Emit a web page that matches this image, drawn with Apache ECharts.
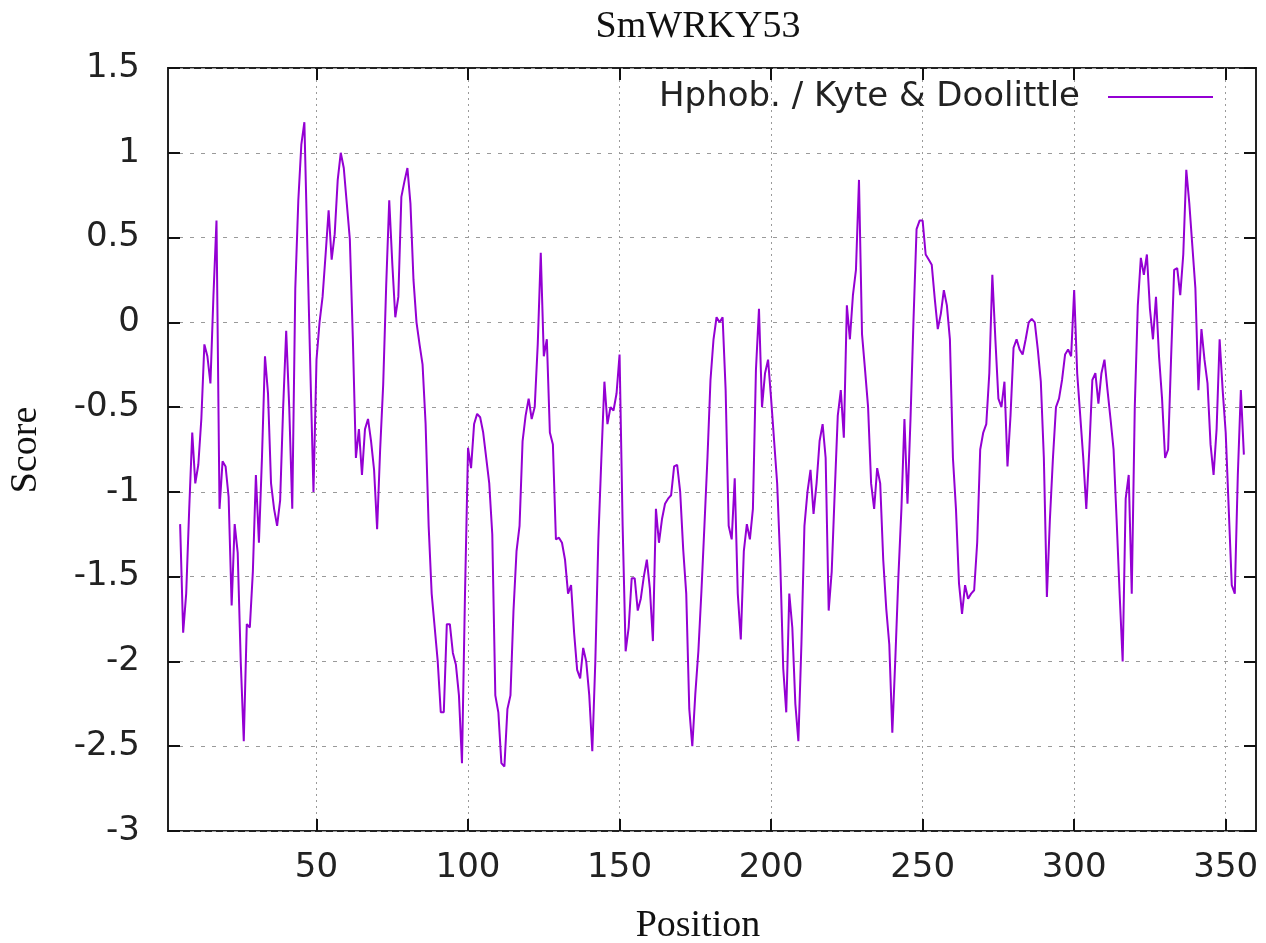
<!DOCTYPE html>
<html>
<head>
<meta charset="utf-8">
<script src="https://cdn.jsdelivr.net/npm/echarts@6/dist/echarts.min.js"></script>
<style>
html,body{margin:0;padding:0;background:#ffffff;}
#chart{width:1266px;height:943px;}
</style>
</head>
<body>
<div id="chart"></div>
<script>
// ---- data ----
const chartTitle = 'SmWRKY53';
const seriesName = 'Hphob. / Kyte & Doolittle';
const xAxisName = 'Position';
const yAxisName = 'Score';
const xRange = [1, 360];
const xTickValues = [50, 100, 150, 200, 250, 300, 350];
const yRange = [-3, 1.5];
const yTickStep = 0.5;
const firstPosition = 5;
const scores = [
  -1.19, -1.83, -1.6, -1.1, -0.65, -0.95, -0.84, -0.57, -0.13, -0.2,
  -0.36, 0.16, 0.6, -1.1, -0.82, -0.85, -1.03, -1.67, -1.19, -1.36,
  -2.0, -2.47, -1.78, -1.8, -1.47, -0.9, -1.3, -0.8, -0.2, -0.42,
  -0.95, -1.1, -1.2, -1.05, -0.5, -0.05, -0.5, -1.1, 0.2, 0.72,
  1.05, 1.18, 0.43, -0.3, -1.0, -0.22, 0.0, 0.15, 0.4, 0.66,
  0.37, 0.52, 0.84, 1.0, 0.91, 0.7, 0.49, -0.1, -0.8, -0.63,
  -0.9, -0.63, -0.57, -0.7, -0.87, -1.22, -0.75, -0.37, 0.22, 0.72,
  0.35, 0.03, 0.15, 0.74, 0.83, 0.91, 0.7, 0.25, 0.0, -0.13,
  -0.25, -0.6, -1.2, -1.6, -1.8, -2.0, -2.3, -2.3, -1.78, -1.78,
  -1.95, -2.02, -2.2, -2.6, -1.6, -0.74, -0.86, -0.6, -0.54, -0.56,
  -0.65, -0.8, -0.95, -1.25, -2.2, -2.3, -2.6, -2.62, -2.28, -2.2,
  -1.7, -1.35, -1.2, -0.7, -0.55, -0.45, -0.57, -0.5, -0.13, 0.41,
  -0.2, -0.1, -0.65, -0.72, -1.28, -1.27, -1.3, -1.4, -1.6, -1.55,
  -1.83, -2.05, -2.1, -1.92, -2.0, -2.2, -2.53, -2.0, -1.28, -0.8,
  -0.35, -0.6, -0.5, -0.52, -0.42, -0.19, -1.19, -1.94, -1.8, -1.51,
  -1.51, -1.7, -1.63, -1.5, -1.4, -1.57, -1.88, -1.1, -1.3, -1.16,
  -1.07, -1.04, -1.02, -0.85, -0.84, -1.0, -1.34, -1.6, -2.28, -2.5,
  -2.19, -1.94, -1.59, -1.2, -0.8, -0.34, -0.1, 0.03, 0.0, 0.03,
  -0.4, -1.2, -1.28, -0.92, -1.6, -1.87, -1.35, -1.19, -1.28, -1.1,
  -0.28, 0.08, -0.5, -0.3, -0.22, -0.45, -0.7, -0.95, -1.4, -2.04,
  -2.3, -1.6, -1.8, -2.25, -2.47, -1.9, -1.2, -1.0, -0.87, -1.13,
  -0.95, -0.7, -0.6, -0.8, -1.7, -1.47, -1.0, -0.55, -0.4, -0.68,
  0.1, -0.1, 0.16, 0.31, 0.84, -0.07, -0.28, -0.5, -0.95, -1.1,
  -0.86, -0.95, -1.4, -1.69, -1.9, -2.42, -1.98, -1.5, -1.1, -0.57,
  -1.07, -0.57, 0.02, 0.55, 0.6, 0.6, 0.4, 0.37, 0.34, 0.14,
  -0.04, 0.05, 0.19, 0.1, -0.1, -0.8, -1.1, -1.54, -1.72, -1.55,
  -1.63, -1.6, -1.58, -1.3, -0.75, -0.65, -0.6, -0.3, 0.28, -0.1,
  -0.45, -0.5, -0.35, -0.85, -0.55, -0.15, -0.1, -0.16, -0.19, -0.1,
  0.0, 0.02, 0.0, -0.16, -0.35, -0.8, -1.62, -1.16, -0.8, -0.5,
  -0.45, -0.34, -0.19, -0.16, -0.2, 0.19, -0.3, -0.55, -0.8, -1.1,
  -0.75, -0.34, -0.3, -0.48, -0.3, -0.22, -0.4, -0.57, -0.75, -1.16,
  -1.6, -2.0, -1.04, -0.9, -1.6, -0.5, 0.1, 0.38, 0.28, 0.4,
  0.08, -0.1, 0.15, -0.2, -0.45, -0.8, -0.75, -0.2, 0.31, 0.32,
  0.16, 0.4, 0.9, 0.7, 0.45, 0.2, -0.4, -0.04, -0.22, -0.36,
  -0.72, -0.9, -0.63, -0.1, -0.4, -0.65, -1.1, -1.55, -1.6, -0.9,
  -0.4, -0.78
];

// ---- chart ----
const lineData = scores.map((v, i) => [firstPosition + i, v]);
const sansFont = '"DejaVu Sans", Verdana, sans-serif';
const serifFont = '"Liberation Serif", "Times New Roman", serif';
const tickStyle = { show: true, inside: true, length: 12, lineStyle: { color: '#111', width: 2 } };
const hiddenLine = { show: false, onZero: false };

const chart = echarts.init(document.getElementById('chart'), null, { renderer: 'canvas' });
chart.setOption({
  animation: false,
  backgroundColor: '#ffffff',
  title: {
    text: chartTitle,
    left: 698,
    top: 8,
    textAlign: 'center',
    padding: 0,
    textStyle: { fontFamily: serifFont, fontSize: 38, fontWeight: 'normal', color: '#111' }
  },
  legend: {
    data: [seriesName],
    right: 53,
    top: 80,
    padding: 0,
    align: 'right',
    icon: 'rect',
    itemWidth: 105,
    itemHeight: 2,
    textStyle: { fontFamily: sansFont, fontSize: 34, color: '#222', padding: [0, 23, 0, 0] }
  },
  grid: {
    left: 168, right: 10, top: 68, bottom: 112,
    outerBoundsMode: 'none',
    containLabel: false,
    show: true, borderColor: '#222', borderWidth: 2, backgroundColor: 'transparent'
  },
  graphic: [
    {
      type: 'text', left: null, x: 698, y: 926,
      style: { text: xAxisName, fontFamily: serifFont, fontSize: 38, fill: '#111', align: 'center', verticalAlign: 'middle' }
    },
    {
      type: 'text', x: 26, y: 450, rotation: Math.PI / 2,
      style: { text: yAxisName, fontFamily: serifFont, fontSize: 38, fill: '#111', align: 'center', verticalAlign: 'middle' }
    }
  ],
  xAxis: [
    {
      type: 'value', position: 'bottom', min: xRange[0], max: xRange[1],
      axisLine: hiddenLine,
      axisTick: Object.assign({ customValues: xTickValues }, tickStyle),
      axisLabel: { customValues: xTickValues, margin: 20, fontFamily: sansFont, fontSize: 34, color: '#222' },
      splitLine: { show: true, lineStyle: { color: '#9a9a9a', width: 1, type: [2, 4] } }
    },
    {
      type: 'value', position: 'top', min: xRange[0], max: xRange[1],
      axisLine: hiddenLine,
      axisTick: Object.assign({ customValues: xTickValues }, tickStyle),
      axisLabel: { show: false },
      splitLine: { show: false }
    }
  ],
  yAxis: [
    {
      type: 'value', position: 'left', min: yRange[0], max: yRange[1], interval: yTickStep,
      axisLine: hiddenLine,
      axisTick: tickStyle,
      axisLabel: { margin: 28, fontFamily: sansFont, fontSize: 34, color: '#222' },
      splitLine: { show: true, lineStyle: { color: '#9a9a9a', width: 1, type: [4, 7] } }
    },
    {
      type: 'value', position: 'right', min: yRange[0], max: yRange[1], interval: yTickStep,
      axisLine: hiddenLine,
      axisTick: tickStyle,
      axisLabel: { show: false },
      splitLine: { show: false }
    }
  ],
  series: [
    {
      name: seriesName,
      type: 'line',
      xAxisIndex: 0,
      yAxisIndex: 0,
      data: lineData,
      symbol: 'none',
      sampling: false,
      itemStyle: { color: '#9400d3' },
      lineStyle: { color: '#9400d3', width: 2 },
      z: 5
    }
  ]
});
</script>
</body>
</html>
